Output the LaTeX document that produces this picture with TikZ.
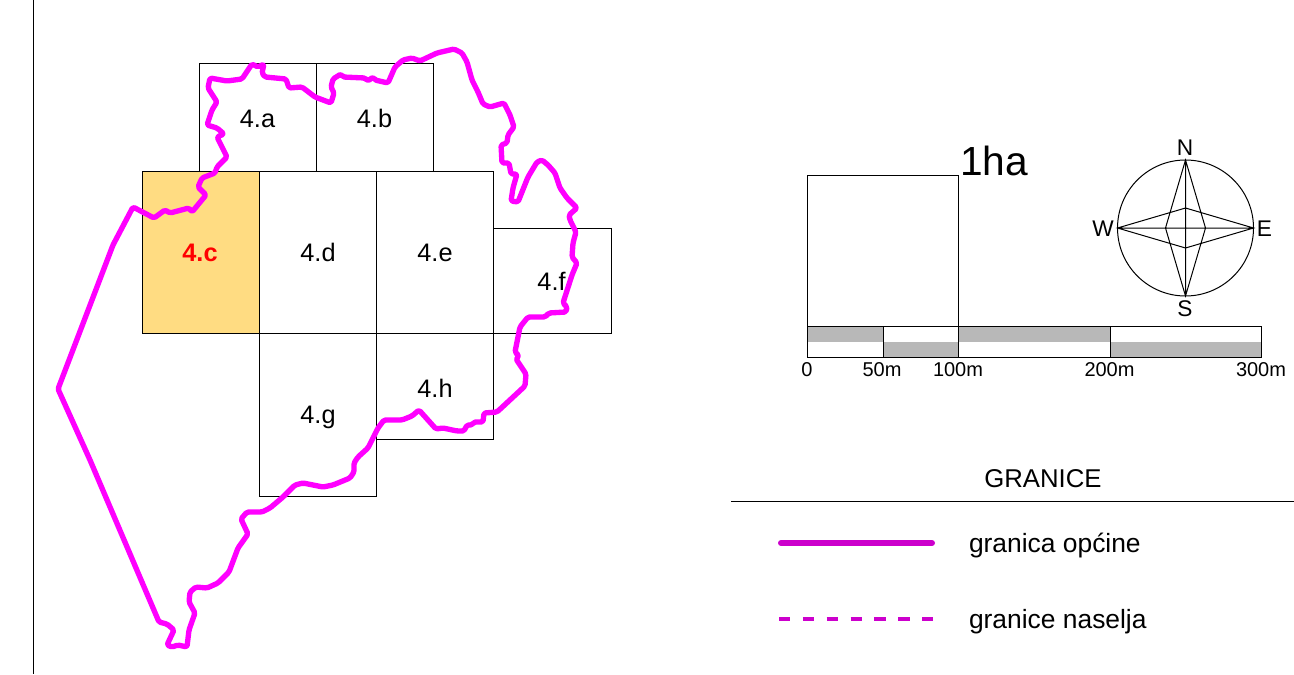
\documentclass[tikz,border=0pt]{standalone}
\usepackage{fontspec}
\setmainfont{Liberation Sans}
\definecolor{cellfill}{HTML}{FFDC82}
\definecolor{bound}{HTML}{FF00FF}
\definecolor{legendc}{HTML}{CC00CC}
\definecolor{bargray}{HTML}{B8B8B8}
\newcommand{\fsz}[1]{\fontsize{#1}{#1}\selectfont}
\tikzset{
  x=0.75pt,y=-0.75pt,
  thinline/.style={draw=black,line width=0.75pt},
  txt/.style={inner sep=0pt,outer sep=0pt,anchor=base,text=black},
  celltxt/.style={txt,font=\fsz{19}},
  scaletxt/.style={txt,font=\fsz{15}},
  compasstxt/.style={txt,font=\fsz{17}},
  legendtxt/.style={txt,anchor=base west,font=\fsz{19.8}},
  border/.style={draw=bound,line width=4pt,line join=round,line cap=round,rounded corners=1.2pt},
}
\begin{document}
\begin{tikzpicture}
\useasboundingbox (0,0) rectangle (1294,674);
\draw[thinline] (33,0) -- (33,674);
% grid
\draw[thinline,fill=cellfill] (142,171) rectangle (259,333);
\draw[thinline] (199,64) rectangle (316,171);
\draw[thinline] (316,64) rectangle (433,171);
\draw[thinline] (259,171) rectangle (376,333);
\draw[thinline] (376,171) rectangle (493,333);
\draw[thinline] (493,228) rectangle (611,333);
\draw[thinline] (259,333) rectangle (376,496);
\draw[thinline] (376,333) rectangle (493,439);
\node[celltxt] (la) at (257.5,127) {4.a};
\node[celltxt] (lb) at (374.5,127) {4.b};
\node[celltxt,text=red,font=\fsz{19}\bfseries] (lc) at (200,261) {4.c};
\node[celltxt] (ld) at (318,261) {4.d};
\node[celltxt] (le) at (435,261) {4.e};
\node[celltxt] (lf) at (551.5,290) {4.f};
\node[celltxt] (lg) at (318,423) {4.g};
\node[celltxt] (lh) at (435,397) {4.h};
% municipal boundary
\draw[border]
 (133,207) -- (113,245) -- (58,389) -- (90,460) -- (159,622) -- (167,624) -- (174,630) -- (167,645) -- (172,647) -- (178,645) -- (187,647) -- (189,630) -- (195,613) -- (189,602) -- (190,592) -- (196,587) -- (207,588) -- (218,583) -- (229,572) -- (238,548) -- (248,534) -- (241,519) -- (247,512) -- (262,512) -- (270,508) -- (283,497) -- (295,485) -- (303,483) -- (323,487) -- (333,485) -- (350,478) -- (354,472) -- (354,463) -- (358,457) -- (368,448) -- (372,440) -- (378,428) -- (384,420) -- (402,420) -- (412,416) -- (419,410) -- (436,429) -- (443,428) -- (457,431) -- (464,431) -- (467,425) -- (472,425) -- (474,422) -- (483,422) -- (484,413) -- (497,412) -- (525,386) -- (526,374) -- (516,359) -- (519,356) -- (515,352) -- (520,327) -- (528,317) -- (545,317) -- (549,313) -- (566,312) -- (567,307) -- (563,303) -- (572,275) -- (577,263) -- (572,257) -- (573,243) -- (576,232) -- (570,220) -- (569,215) -- (577,208) -- (567,198) -- (560,188) -- (555,173) -- (548,165) -- (542,160) -- (537,162) -- (528,177) -- (518,202) -- (511,201) -- (513,188) -- (517,174) -- (511,174) -- (509,163) -- (502,163) -- (501,145) -- (507,143) -- (508,135) -- (514,127) -- (510,115) -- (504,103) -- (490,107) -- (483,104) -- (478,92) -- (472,80) -- (467,62) -- (462,53) -- (454,49) -- (437,53) -- (420,61) -- (412,58) -- (403,60) -- (395,67) -- (388,83) -- (375,80) -- (373,77) -- (368,81) -- (365,78) -- (343,77) -- (341,74) -- (333,79) -- (331,87) -- (334,93) -- (331,103) -- (315,97) -- (302,87) -- (289,88) -- (286,79) -- (265,77) -- (262,73) -- (264,64) -- (258,67) -- (252,64) -- (242,79) -- (227,81) -- (210,78) -- (208,88) -- (217,102) -- (212,110) -- (207,125) -- (217,128) -- (224,134) -- (217,137) -- (227,157) -- (217,167) -- (215,173) -- (202,178) -- (198,187) -- (206,195) -- (192,212) -- (189,208) -- (170,213) -- (165,210) -- (154,218) -- cycle;
% one hectare and scale bar
\draw[thinline] (807,175) rectangle (958,326);
\node[txt,font=\fsz{30.5}] (ha) at (994,175) {1ha};
\fill[bargray] (807,326) rectangle (883,341.5);
\fill[bargray] (883,341.5) rectangle (958,357);
\fill[bargray] (958,326) rectangle (1110,341.5);
\fill[bargray] (1110,341.5) rectangle (1261,357);
\draw[thinline] (807,326) rectangle (1261,357);
\draw[thinline] (883,326) -- (883,357);
\draw[thinline] (958,326) -- (958,357);
\draw[thinline] (1110,326) -- (1110,357);
\node[scaletxt] (s0) at (807,376) {0};
\node[scaletxt] (s50) at (882,376) {50m};
\node[scaletxt] (s100) at (958,376) {100m};
\node[scaletxt] (s200) at (1109.5,376) {200m};
\node[scaletxt] (s300) at (1261,376) {300m};
% compass
\coordinate (cc) at (1185.5,228);
\draw[thinline] (cc) circle[radius=51pt];
\draw[thinline,line join=miter]
 (1185.5,160) -- (1205.5,228) -- (1185.5,296) -- (1165.5,228) -- cycle
 (1117.5,228) -- (1185.5,208) -- (1253.5,228) -- (1185.5,248) -- cycle
 (1185.5,160) -- (1185.5,296)
 (1117.5,228) -- (1253.5,228);
\node[compasstxt] (cn) at (1185,155) {N};
\node[compasstxt] (cs) at (1185,316) {S};
\node[compasstxt] (cw) at (1103,236.5) {W};
\node[compasstxt] (ce) at (1264.5,236.5) {E};
% legend
\node[txt,font=\fsz{19.3}] (gr) at (1043,487) {GRANICE};
\coordinate (ra) at (731,501); \coordinate (rb) at (1294,501);
\draw[thinline] (ra) -- (rb);
\coordinate (l1a) at (781,543); \coordinate (l1b) at (932,543);
\draw[draw=legendc,line width=4.5pt,line cap=round] (l1a) -- (l1b);
\node[legendtxt] (lt1) at (969,552) {granica općine};
\coordinate (l2a) at (779,619); \coordinate (l2b) at (933,619);
\draw[draw=legendc,line width=2.6pt,dash pattern=on 8.6pt off 9.3pt] (l2a) -- (l2b);
\node[legendtxt] (lt2) at (969,628) {granice naselja};
\end{tikzpicture}
\end{document}
